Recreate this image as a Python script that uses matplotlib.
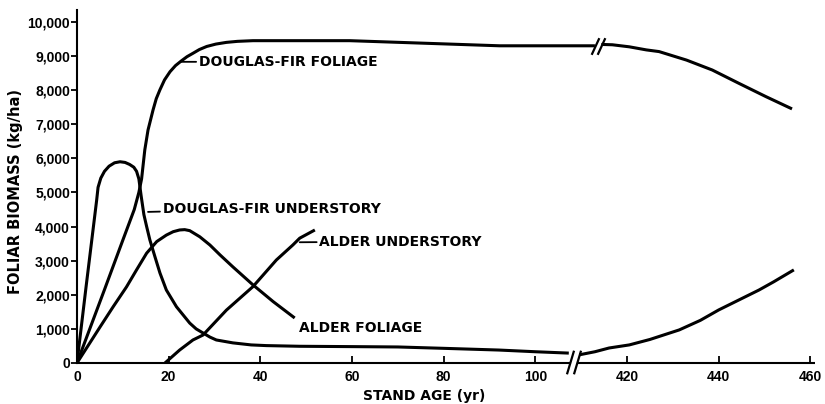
import numpy as np
import matplotlib
matplotlib.use('Agg')
import matplotlib.pyplot as plt
from matplotlib.path import Path

# stand age (yr) vs foliar biomass (kg/ha)
# ages after the axis break are true ages; they are drawn shifted left by SHIFT
SHIFT = 300

df_fol_age = [0, 6, 10, 12.5, 13.5, 14.1, 14.8, 15.5, 16.6, 17.3, 18.1, 19.1, 20.3, 21.5,
              22.8, 24, 25.3, 26.7, 28.3, 30.3, 32.6, 35, 38.4, 48.6, 59.5, 70.4, 81.3,
              92.2, 113]
df_fol = [0, 2150, 3600, 4500, 5000, 5400, 6250, 6830, 7420, 7750, 8010, 8300, 8540, 8720,
          8860, 8980, 9080, 9190, 9280, 9350, 9400, 9430, 9450, 9450, 9450, 9400, 9350,
          9300, 9300]
df_fol_old_age = [414.4, 416.8, 420.5, 424.2, 427, 433, 438.6, 444.4, 450.3, 456]
df_fol_old = [9340, 9330, 9270, 9180, 9130, 8880, 8590, 8200, 7810, 7450]

df_und_age = [0, 2, 4.3, 4.6, 5.2, 6, 7, 8.2, 9.4, 10.5, 11.5, 12.4, 13, 13.5, 14, 14.6,
              15.2, 15.9, 17, 18.1, 19.5, 21.7, 24.6, 26, 27.5, 29, 30.4, 34, 38, 41.3,
              48.6, 60, 70, 80, 92, 100, 107.3]
df_und = [0, 2250, 4780, 5150, 5420, 5620, 5770, 5870, 5900, 5880, 5820, 5740, 5620, 5400,
          4900, 4350, 4000, 3610, 3120, 2640, 2140, 1650, 1170, 1000, 880, 760, 675, 590,
          530, 510, 490, 480, 470, 430, 380, 330, 290]
df_und_old_age = [409.6, 413, 416.1, 420.5, 425, 431.4, 436, 440, 448.8, 452, 456.4]
df_und_old = [240, 330, 440, 530, 690, 970, 1250, 1555, 2140, 2380, 2730]

alder_fol_age = [0, 5.1, 7.9, 10.8, 13, 15.2, 17.4, 19.5, 21, 22.4, 23.5, 24.6, 26.8, 29,
                 31.2, 34, 38.4, 42.8, 47.5]
alder_fol = [0, 1070, 1650, 2230, 2730, 3220, 3560, 3750, 3850, 3900, 3910, 3880, 3700,
             3460, 3170, 2820, 2290, 1800, 1320]

alder_und_age = [19.2, 22.4, 25.3, 27.5, 32.6, 38.4, 43.5, 47.1, 48.6, 51.9]
alder_und = [0, 380, 675, 820, 1550, 2240, 3020, 3460, 3660, 3900]

left_ticks = [0, 20, 40, 60, 80, 100]
right_ticks = [420, 440, 460]
y_ticks = list(range(0, 10001, 1000))

plt.rcParams['font.family'] = 'DejaVu Sans'
lw = 2.2
fs = 10

fig = plt.figure(figsize=(8.25, 4.04), dpi=100)
ax = fig.add_axes([0.0933, 0.1015, 0.8945, 0.8738])

def shifted(a):
    return np.asarray(a) - SHIFT

curve = dict(color='k', lw=lw, solid_capstyle='butt', solid_joinstyle='round')
ax.plot(df_fol_age, df_fol, **curve)
ax.plot(shifted(df_fol_old_age), df_fol_old, **curve)
ax.plot(df_und_age, df_und, **curve)
ax.plot(shifted(df_und_old_age), df_und_old, **curve)
ax.plot(alder_fol_age, alder_fol, **curve)
ax.plot(alder_und_age, alder_und, **curve)

# break marks "//"
slash_top = Path([(-0.23, -0.5), (0.23, 0.5)])
slash_low = Path([(-0.15, -0.5), (0.15, 0.5)])
brk_top = [113.0, 114.4]
ax.plot(brk_top, [np.interp(b, df_fol_age, df_fol) for b in brk_top], ls='none',
        marker=slash_top, ms=12, mew=1.6, color='k', mfc='none')
brk_axis = [107.6, 109.1]
ax.plot(brk_axis, [40, 40], ls='none', marker=slash_low, ms=17, mew=1.6,
        color='k', mfc='none', clip_on=False)

ax.set_xlim(0, 161)
ax.set_ylim(0, 10350)

for s in ['top', 'right']:
    ax.spines[s].set_visible(False)
ax.spines['left'].set_linewidth(1.5)
ax.spines['bottom'].set_linewidth(1.5)
ax.spines['bottom'].set_bounds(0, brk_axis[0])
ax.plot([brk_axis[1], 161], [0, 0], color='k', lw=1.5, clip_on=False,
        solid_capstyle='butt')

ax.set_xticks(left_ticks + list(shifted(right_ticks)))
ax.set_xticklabels([str(t) for t in left_ticks + right_ticks])
ax.set_yticks(y_ticks)
ax.set_yticklabels(['0'] + ['{:,}'.format(v) for v in y_ticks[1:]])
ax.tick_params(axis='x', direction='in', length=5, width=1.3, pad=5)
ax.tick_params(axis='y', direction='out', length=4, width=1.3, pad=1)
for lab in ax.get_xticklabels() + ax.get_yticklabels():
    lab.set_fontfamily('Liberation Sans')
    lab.set_fontweight('bold')
    lab.set_fontsize(fs)

ax.set_xlabel('STAND AGE (yr)', fontsize=fs, fontweight='bold')
ax.xaxis.set_label_coords(0.47, -0.075)
ax.set_ylabel('FOLIAR BIOMASS (kg/ha)', fontsize=10.5, fontweight='bold')
ax.yaxis.set_label_coords(-0.073, 0.487)

leader = dict(arrowstyle='-', lw=1.3, color='k', shrinkA=0, shrinkB=0)
ax.annotate('DOUGLAS-FIR FOLIAGE', xy=(22.8, 8830), xytext=(26.6, 8830),
            fontsize=fs, fontweight='bold', ha='left', va='center', arrowprops=leader)
ax.annotate('DOUGLAS-FIR UNDERSTORY', xy=(15.5, 4430), xytext=(18.7, 4520),
            fontsize=fs, fontweight='bold', ha='left', va='center', arrowprops=leader)
ax.annotate('ALDER UNDERSTORY', xy=(48.6, 3540), xytext=(52.9, 3560),
            fontsize=fs, fontweight='bold', ha='left', va='center', arrowprops=leader)
ax.text(48.4, 1030, 'ALDER FOLIAGE', fontsize=fs, fontweight='bold',
        ha='left', va='center')

fig.savefig('out.png', dpi=100)
